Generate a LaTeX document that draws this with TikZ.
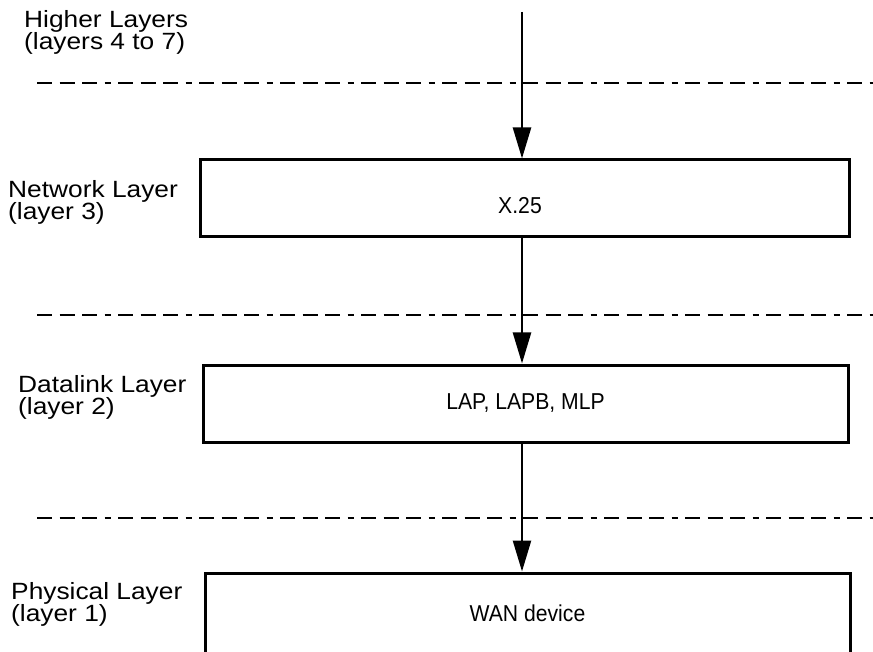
\documentclass[tikz,border=0pt]{standalone}
\usepackage{fontspec}
\setmainfont{Liberation Sans}
\newfontfamily\widesans[FakeStretch=1.12]{Liberation Sans}
\newfontfamily\narrowsans[FakeStretch=0.92]{Liberation Sans}
\usetikzlibrary{arrows.meta}
\begin{document}
\begin{tikzpicture}[x=1pt,y=-1pt,
  layerbox/.style={draw,line width=3pt,inner sep=0pt,font=\narrowsans\fontsize{23}{23}\selectfont},
  boxtext/.style={inner sep=0pt,font=\narrowsans\fontsize{23}{23}\selectfont},
  sidelabel/.style={anchor=base west,align=left,inner sep=0pt,font=\widesans\fontsize{23.5}{22}\selectfont},
  sep/.style={line width=2.5pt,dash pattern=on 15pt off 7.5pt on 15pt off 7.5pt on 15pt off 7.5pt on 6pt off 7.5pt},
  flow/.style={line width=2.4pt,-{Triangle[length=31pt,width=18pt]}}]
\useasboundingbox (0,0) rectangle (873,652);
\clip (0,0) rectangle (873,652);
% separators
\coordinate (s1a) at (37,83); \coordinate (s1b) at (873,83);
\coordinate (s2a) at (37,315); \coordinate (s2b) at (873,315);
\coordinate (s3a) at (37,518); \coordinate (s3b) at (873,518);
\draw[sep] (s1a) -- (s1b);
\draw[sep] (s2a) -- (s2b);
\draw[sep] (s3a) -- (s3b);
% boxes
\node[layerbox,minimum width=649pt,minimum height=77pt] (b1) at (524.5,198.5) {};
\node[boxtext] (t1) at (520,206) {X.25};
\node[layerbox,minimum width=645pt,minimum height=77pt] (b2) at (525.5,403.5) {LAP, LAPB, MLP};
\node[layerbox,minimum width=645pt,minimum height=80pt] (b3) at (527.5,613) {WAN device};
% arrows
\coordinate (top) at (522,12);
\draw[flow] (top) -- (top |- b1.north);
\draw[flow] (top |- b1.south) -- (top |- b2.north);
\draw[flow] (top |- b2.south) -- (top |- b3.north);
% labels (anchor at baseline of last line)
\node[sidelabel] (l4) at (24,50) {Higher Layers\\(layers 4 to 7)};
\node[sidelabel] (l3) at (8,220) {Network Layer\\(layer 3)};
\node[sidelabel] (l2) at (18,414) {Datalink Layer\\(layer 2)};
\node[sidelabel] (l1) at (11,621) {Physical Layer\\(layer 1)};
\end{tikzpicture}
\end{document}
